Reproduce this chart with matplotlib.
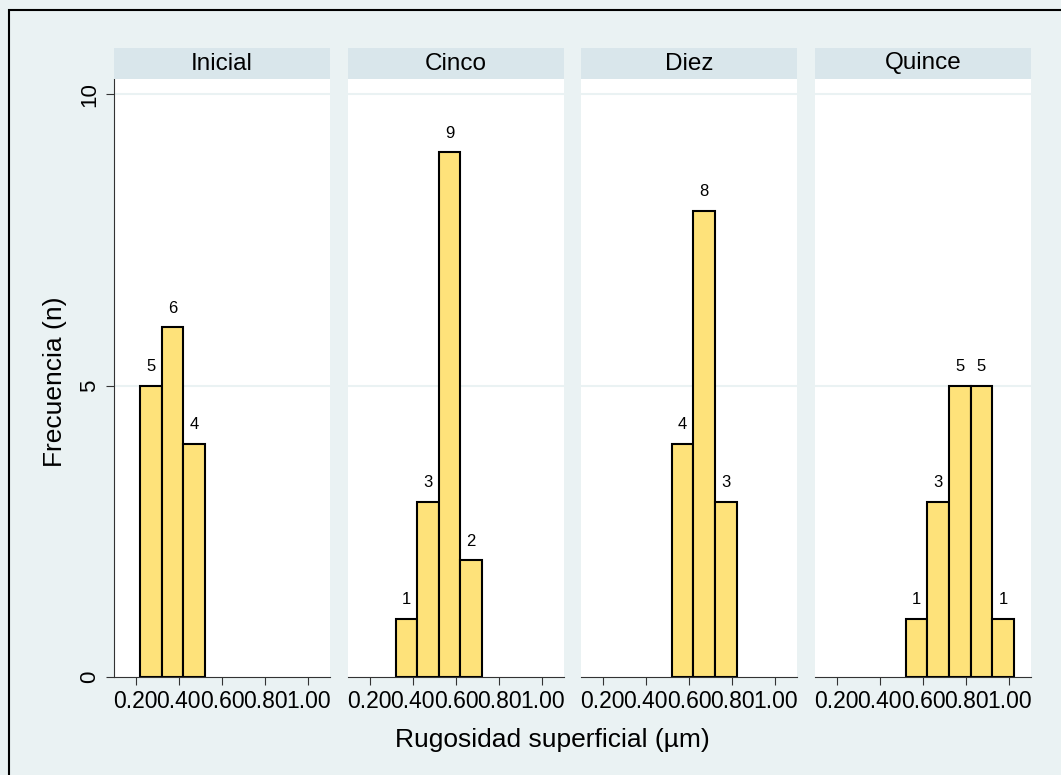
import matplotlib.pyplot as plt
from matplotlib.patches import Rectangle

# histogram bins (left edges) and counts per group
groups = ['Inicial', 'Cinco', 'Diez', 'Quince']
bin_left = {
    'Inicial': [0.22, 0.32, 0.42],
    'Cinco': [0.32, 0.42, 0.52, 0.62],
    'Diez': [0.52, 0.62, 0.72],
    'Quince': [0.52, 0.62, 0.72, 0.82, 0.92],
}
counts = {
    'Inicial': [5, 6, 4],
    'Cinco': [1, 3, 9, 2],
    'Diez': [4, 8, 3],
    'Quince': [1, 3, 5, 5, 1],
}
bin_width = 0.1
x_ticks = [0.2, 0.4, 0.6, 0.8, 1.0]
x_ticklabels = ['0.20', '0.40', '0.60', '0.80', '1.00']
y_ticks = [0, 5, 10]

W, H = 1061, 775
bg = '#EAF2F3'
strip_col = '#D9E6EB'
bar_col = '#FEE27A'
plt.rcParams['font.family'] = ['Liberation Sans', 'DejaVu Sans']

fig = plt.figure(figsize=(W / 100, H / 100), dpi=100)
fig.patch.set_facecolor(bg)
fig.patches.append(Rectangle((9 / W, -0.1), 1.2, 1 - 10 / H + 0.1, transform=fig.transFigure,
                             fill=False, edgecolor='black', linewidth=1.5))

panel_x = [114, 348, 581, 815]
panel_w = 216
top, bottom = 79, 677
strip_top = 48

for i, g in enumerate(groups):
    x0 = panel_x[i]
    ax = fig.add_axes([x0 / W, 1 - bottom / H, panel_w / W, (bottom - top) / H])
    ax.set_facecolor('white')
    ax.set_xlim(0.1, 1.1)
    ax.set_ylim(0, 10.26)
    for yv in [5, 10]:
        ax.axhline(yv, color=bg, linewidth=1.5, zorder=0)
    bars = ax.bar(bin_left[g], counts[g], width=bin_width, align='edge',
                  color=bar_col, edgecolor='black', linewidth=1.5, zorder=2)
    for rect, c in zip(bars, counts[g]):
        ax.text(rect.get_x() + rect.get_width() / 2, c + 0.2, str(c),
                ha='center', va='bottom', fontsize=12)
    ax.set_xticks(x_ticks)
    ax.set_xticklabels(x_ticklabels, fontsize=16.5)
    ax.tick_params(axis='x', length=6, color='#333333', pad=3)
    for s in ['top', 'right']:
        ax.spines[s].set_visible(False)
    ax.spines['bottom'].set_color('#333333')
    if i == 0:
        ax.set_yticks(y_ticks)
        ax.set_yticklabels([str(v) for v in y_ticks], fontsize=16, rotation=90, va='center')
        ax.tick_params(axis='y', length=6, color='#333333', pad=4)
        ax.spines['left'].set_color('#333333')
    else:
        ax.spines['left'].set_visible(False)
        ax.set_yticks([])

    sax = fig.add_axes([x0 / W, 1 - top / H, panel_w / W, (top - strip_top) / H])
    sax.set_facecolor(strip_col)
    sax.set_xticks([])
    sax.set_yticks([])
    for s in sax.spines.values():
        s.set_visible(False)
    sax.text(0.5, 0.5, g, ha='center', va='center', fontsize=17.5, transform=sax.transAxes)

fig.text(552 / W, 1 - 740 / H, 'Rugosidad superficial (µm)', ha='center', va='center', fontsize=19)
fig.text(55 / W, 1 - 382 / H, 'Frecuencia (n)', ha='center', va='center', fontsize=19, rotation=90)

fig.savefig('out.png', dpi=100, facecolor=bg)
